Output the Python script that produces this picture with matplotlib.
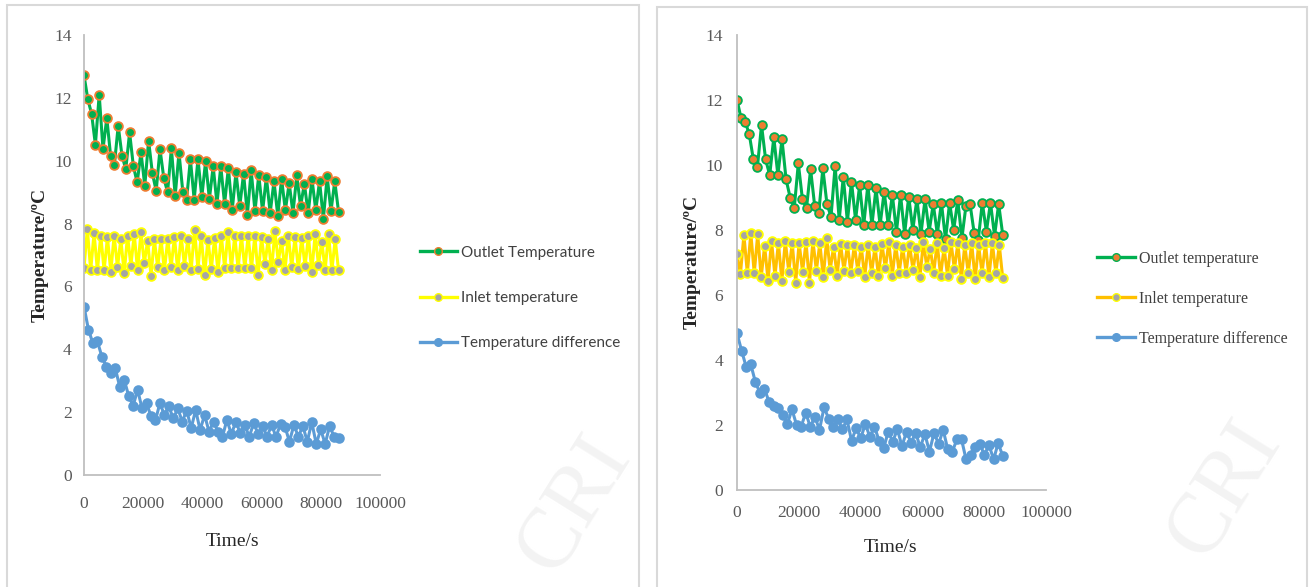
import numpy as np
import matplotlib
matplotlib.use("Agg")
import matplotlib.pyplot as plt
from matplotlib.lines import Line2D
from matplotlib.patches import Rectangle

plt.rcParams['font.family'] = ['Liberation Serif', 'DejaVu Serif']

# ---- data (time in s, temperature in degC) ----
left_outlet = [12.72, 11.96, 11.49, 10.51, 12.10, 10.37, 11.36, 10.16, 9.87, 11.11, 10.16, 9.73,
               10.90, 9.82, 9.31, 10.27, 9.20, 10.64, 9.60, 9.04, 10.37, 9.45, 9.00, 10.40, 8.88,
               10.26, 9.02, 8.76, 10.05, 8.76, 10.05, 8.84, 9.98, 8.78,
               9.82, 8.63, 9.82, 8.63, 9.77, 8.42, 9.63, 8.55, 9.59, 8.28, 9.69, 8.39, 9.55, 8.39,
               9.48, 8.33, 9.35, 8.25, 9.42, 8.42, 9.29, 8.33, 9.53, 8.55, 9.27, 8.33, 9.42, 8.42,
               9.35, 8.14, 9.50, 8.39, 9.35, 8.37]
left_inlet = [6.58, 7.83, 6.51, 7.70, 6.51, 7.62, 6.51, 7.56, 6.47, 7.62, 6.61, 7.50, 6.42, 7.62,
              6.66, 7.67, 6.51, 7.72, 6.74, 7.46, 6.34, 7.50, 6.61, 7.50, 6.51, 7.50, 6.61, 7.56,
              6.51, 7.60, 6.66, 7.50, 6.53, 7.80, 6.56, 7.60, 6.37, 7.48,
              6.55, 7.54, 6.47, 7.61, 6.58, 7.72, 6.58, 7.60, 6.58, 7.60, 6.58, 7.60, 6.58, 7.61,
              6.37, 7.56, 6.72, 7.50, 6.53, 7.75, 6.79, 7.45, 6.51, 7.61, 6.61, 7.56, 6.55, 7.54,
              6.64, 7.60, 6.47, 7.66, 6.69, 7.42, 6.53, 7.66, 6.51, 7.50, 6.51]
left_diff = [5.36, 4.62, 4.19, 4.25, 3.77, 3.45, 3.24, 3.40, 2.81, 3.03, 2.52, 2.20, 2.71, 2.12,
             2.28, 1.88, 1.75, 2.28, 1.91, 2.18, 1.80, 2.12, 1.70, 2.05, 1.49, 2.07, 1.43, 1.91,
             1.38, 1.70, 1.38, 1.22, 1.75, 1.30, 1.70, 1.33, 1.59, 1.22, 1.65, 1.30, 1.56, 1.22,
             1.59, 1.22, 1.62, 1.54, 1.06, 1.59, 1.22, 1.56, 1.06, 1.68, 0.99, 1.45, 0.99, 1.56,
             1.22, 1.17]

right_outlet = [12.00, 11.44, 11.33, 10.95, 10.17, 9.95, 11.23, 10.17, 9.69, 10.85, 9.69, 10.79,
                9.56, 9.00, 8.67, 10.05, 8.95, 8.67, 9.87, 8.74, 8.53, 9.90, 8.80, 8.41, 9.97,
                8.31, 9.64, 8.26, 9.49, 8.31, 9.38, 8.15, 9.38,
                8.15, 9.28, 8.15, 9.18, 8.15, 9.08, 7.95, 9.08, 7.88, 9.03, 8.00, 8.95, 7.88, 8.95,
                7.95, 8.80, 7.88, 8.84, 7.71, 8.84, 8.00, 8.92, 7.74, 8.74, 8.80, 7.92, 7.69, 8.84,
                7.95, 8.84, 7.82, 8.80, 7.85]
right_inlet = [7.25, 6.65, 7.85, 6.67, 7.90, 6.67, 7.87, 6.54, 7.51, 6.44, 7.67, 6.58, 7.60, 6.44,
               7.66, 6.72, 7.60, 6.38, 7.60, 6.72, 7.63, 6.38, 7.67, 6.75, 7.60, 6.54, 7.74, 6.77,
               7.49, 6.60, 7.57, 6.75, 7.54, 6.69, 7.54, 6.75,
               7.49, 6.54, 7.54, 6.67, 7.49, 6.57, 7.57, 6.82, 7.63, 6.60, 7.54, 6.69, 7.49, 6.69,
               7.54, 6.77, 7.46, 6.54, 7.63, 6.87, 7.43, 6.69, 7.59, 6.60, 7.46, 6.60, 7.63, 6.79,
               7.60, 6.48, 7.54, 6.67, 7.60, 6.48, 7.54, 6.67, 7.59, 6.54, 7.59, 6.67, 7.54, 6.51]
right_diff = [4.82, 4.29, 3.79, 3.87, 3.33, 2.99, 3.10, 2.72, 2.58, 2.51, 2.31, 2.03, 2.48, 2.00,
              1.95, 2.38, 1.94, 2.26, 1.85, 2.54, 2.20, 1.94, 2.17, 1.87, 2.17, 1.52, 1.90, 1.59,
              2.03, 1.64, 1.95, 1.52, 1.28, 1.79, 1.49, 1.87, 1.35, 1.79, 1.46, 1.76, 1.31, 1.73,
              1.18, 1.75, 1.42, 1.85, 1.25, 1.18, 1.56, 1.56, 0.94, 1.08, 1.31, 1.42, 1.08, 1.39,
              0.94, 1.44, 1.05]

t_end_left = 86000
t_end_right = 86000

yticks = [0, 2, 4, 6, 8, 10, 12, 14]
xticks = [0, 20000, 40000, 60000, 80000, 100000]

GREEN = '#00B050'
ORANGE = '#ED7D31'
GREY = '#A5A5A5'
BLUE = '#5B9BD5'
YELLOW = '#FFFF00'
GOLD = '#FFC000'
TICKC = '#595959'

W, H = 1312, 587
fig = plt.figure(figsize=(W / 100, H / 100), dpi=100)


def px(x0, y0, x1, y1):
    # pixel box (top-left origin) -> figure fraction rect
    return [x0 / W, 1 - y1 / H, (x1 - x0) / W, (y1 - y0) / H]


# panel frames
for x0, y0, x1 in [(7, 5, 639), (657, 7, 1307)]:
    fig.patches.append(Rectangle((x0 / W, -0.05), (x1 - x0) / W, 1 - y0 / H + 0.05,
                                 transform=fig.transFigure, fill=False,
                                 edgecolor='#D9D9D9', linewidth=1.5))

# faint watermark
for x, y in [(575, 505), (1225, 490)]:
    fig.text(x / W, 1 - y / H, 'CRI', fontsize=62, color='#F3F3F3', rotation=58,
             ha='center', va='center', zorder=0)


def setup(ax, xpad, ypad):
    ax.set_xlim(0, 100000)
    ax.set_ylim(0, 14)
    ax.set_xticks(xticks)
    ax.set_xticklabels([str(v) for v in xticks])
    ax.set_yticks(yticks)
    ax.set_yticklabels([str(v) for v in yticks])
    for s in ['top', 'right']:
        ax.spines[s].set_visible(False)
    for s in ['left', 'bottom']:
        ax.spines[s].set_color('#BFBFBF')
        ax.spines[s].set_linewidth(1.3)
    ax.tick_params(axis='x', length=0, pad=xpad, labelsize=12.5, labelcolor=TICKC)
    ax.tick_params(axis='y', length=0, pad=ypad, labelsize=12.5, labelcolor=TICKC)
    ax.patch.set_alpha(0)


def series(ax, t_end, vals, color, mfc, mec, ms=6.3, lw=2.2):
    t = np.linspace(0, t_end, len(vals))
    ax.plot(t, vals, color=color, lw=lw, marker='o', ms=ms, mfc=mfc, mec=mec, mew=1.3)


# left panel
axL = fig.add_axes(px(84, 35, 380, 475))
setup(axL, 15, 9)
series(axL, t_end_left, left_outlet, GREEN, GREEN, ORANGE)
series(axL, t_end_left, left_inlet, YELLOW, GREY, YELLOW)
series(axL, t_end_left, left_diff, BLUE, BLUE, BLUE)

# right panel
axR = fig.add_axes(px(737, 35, 1046, 490))
setup(axR, 11, 10)
series(axR, t_end_right, right_outlet, GREEN, ORANGE, GREEN)
series(axR, t_end_right, right_inlet, GOLD, GREY, YELLOW)
series(axR, t_end_right, right_diff, BLUE, BLUE, BLUE)

# axis titles
fig.text(40 / W, 1 - 255 / H, 'Temperature/ºC', rotation=90, ha='center', va='center',
         fontsize=14, fontweight='bold', color='#262626')
fig.text(692 / W, 1 - 262 / H, 'Temperature/ºC', rotation=90, ha='center', va='center',
         fontsize=14, fontweight='bold', color='#262626')
fig.text(232 / W, 1 - 542 / H, 'Time/s', ha='center', va='center', fontsize=14, color='#262626')
fig.text(890 / W, 1 - 547 / H, 'Time/s', ha='center', va='center', fontsize=14, color='#262626')

# legends
hL = [Line2D([], [], color=GREEN, lw=2.4, marker='o', ms=5.5, mfc=GREEN, mec=ORANGE),
      Line2D([], [], color=YELLOW, lw=2.4, marker='o', ms=5.5, mfc=GREY, mec=YELLOW),
      Line2D([], [], color=BLUE, lw=2.4, marker='o', ms=5.5, mfc=BLUE, mec=BLUE)]
legL = fig.legend(hL, ['Outlet Temperature', 'Inlet temperature', 'Temperature difference'],
                  loc='center left', bbox_to_anchor=(420 / W, 1 - 298 / H),
                  bbox_transform=fig.transFigure, frameon=False, borderpad=0,
                  borderaxespad=0, handlelength=2.4, handletextpad=0.3, labelspacing=2.05,
                  prop={'family': 'Lato', 'size': 11})
for txt in legL.get_texts():
    txt.set_color('#404040')

hR = [Line2D([], [], color=GREEN, lw=2.4, marker='o', ms=5.5, mfc=ORANGE, mec=GREEN),
      Line2D([], [], color=GOLD, lw=2.4, marker='o', ms=5.5, mfc=GREY, mec=YELLOW),
      Line2D([], [], color=BLUE, lw=2.4, marker='o', ms=5.5, mfc=BLUE, mec=BLUE)]
legR = fig.legend(hR, ['Outlet temperature', 'Inlet temperature', 'Temperature difference'],
                  loc='center left', bbox_to_anchor=(1097 / W, 1 - 299 / H),
                  bbox_transform=fig.transFigure, frameon=False, borderpad=0,
                  borderaxespad=0, handlelength=2.35, handletextpad=0.3, labelspacing=1.5,
                  prop={'family': 'Liberation Serif', 'size': 11.5})
for txt in legR.get_texts():
    txt.set_color('#404040')

fig.savefig('out.png', dpi=100)
